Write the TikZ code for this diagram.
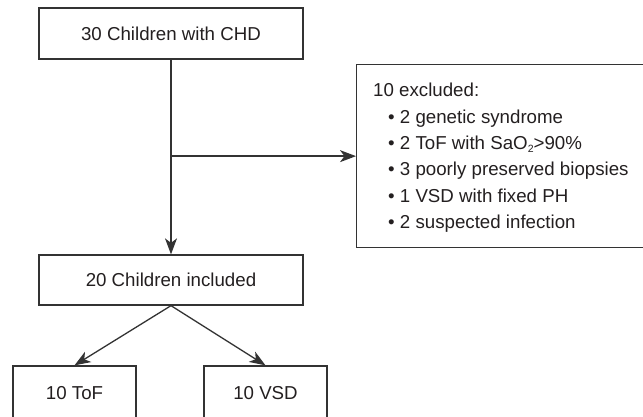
\documentclass[tikz,border=0pt]{standalone}
\usepackage{fontspec}
\setmainfont{Liberation Sans}
\usetikzlibrary{arrows.meta}
\definecolor{linegray}{HTML}{333333}
\definecolor{txt}{HTML}{231F20}
\newcommand{\fsz}{\fontsize{18.7}{26.3}\selectfont}
\newcommand{\smallsub}[1]{\raisebox{-3pt}{\fontsize{10.5}{10.5}\selectfont #1}}
\begin{document}
\begin{tikzpicture}[x=1pt,y=-1pt,
  box/.style={draw=linegray, line width=1.3pt, minimum width=264pt, minimum height=51pt, inner sep=0pt, text=txt, font=\fsz},
  txtline/.style={anchor=base west, inner sep=0pt, text=txt, font=\fsz},
  link/.style={draw=linegray, line width=1.3pt},
  conn/.style={link, -{Stealth[length=16pt,width=12pt,inset=4.5pt]}}]
\useasboundingbox (0,0) rectangle (643,417);
\clip (0,0) rectangle (643,417);
\node[box] (b30) at (171,33.5) {30 Children with CHD};
\node[box, minimum height=50pt] (b20) at (171,280) {20 Children included};
\node[box, minimum width=123pt, minimum height=54pt] (tof) at (74.5,393) {10 ToF};
\node[box, minimum width=123pt, minimum height=54pt] (vsd) at (265.5,393) {10 VSD};
\node[box, minimum width=304pt, minimum height=183pt, anchor=north west] (excl) at (356,64) {};
\node[txtline] (l1) at (373,97) {10 excluded:};
\node[txtline] (l2) at (388,123.3) {• 2 genetic syndrome};
\node[txtline] (l3) at (388,149.6) {• 2 ToF with SaO\smallsub{2}>90\%};
\node[txtline] (l4) at (388,175.9) {• 3 poorly preserved biopsies};
\node[txtline] (l5) at (388,202.2) {• 1 VSD with fixed PH};
\node[txtline] (l6) at (388,228.5) {• 2 suspected infection};
\coordinate (split) at (b30.south |- excl.west);
\draw[conn] (b30.south) -- (b20.north);
\draw[conn] (split) -- (excl.west);
\draw[conn] (b20.south) -- (tof.north);
\draw[conn] (b20.south) -- (vsd.north);
\end{tikzpicture}
\end{document}
